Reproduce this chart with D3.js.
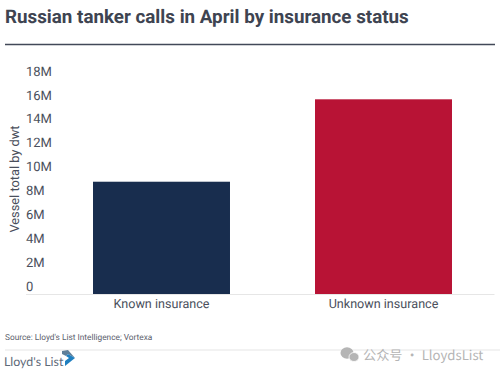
<!DOCTYPE html>
<html>
<head>
<meta charset="utf-8">
<script src="https://cdn.jsdelivr.net/npm/d3@7"></script>
<style>
  html, body { margin: 0; padding: 0; background: #fff; overflow: hidden; }
  text { font-family: Roboto, sans-serif; text-rendering: geometricPrecision; }
</style>
</head>
<body>
<div id="chart"></div>
<script>
(function () {
  const categories = ["Known insurance", "Unknown insurance"];
  const values = [9.4, 16.3];
  const barColors = ["#182d4e", "#b81335"];
  const yTicks = [0, 2, 4, 6, 8, 10, 12, 14, 16, 18];

  const width = 500;
  const height = 375;
  const margin = { top: 79, right: 5.5, bottom: 81, left: 50.5 };
  const innerWidth = width - margin.left - margin.right;
  const innerHeight = height - margin.top - margin.bottom;

  const svg = d3.select("#chart").append("svg")
    .attr("width", width)
    .attr("height", height)
    .style("display", "block");

  // Header
  svg.append("text")
    .attr("x", 5)
    .attr("y", 22.5)
    .attr("fill", "#3e4451")
    .style("font-size", "18.8px")
    .style("font-weight", 700)
    .text("Russian tanker calls in April by insurance status");

  svg.append("line")
    .attr("x1", 5).attr("x2", 495)
    .attr("y1", 44.5).attr("y2", 44.5)
    .attr("stroke", "#424958")
    .attr("stroke-width", 1.5);

  const plot = svg.append("g")
    .attr("transform", `translate(${margin.left},${margin.top})`);

  const x = d3.scaleBand()
    .domain(categories)
    .range([0, innerWidth])
    .paddingInner(0.383)
    .paddingOuter(0.1915);

  const y = d3.scaleLinear()
    .domain([0, 18])
    .range([innerHeight, 0]);

  // Baseline
  plot.append("line")
    .attr("x1", 26 - margin.left)
    .attr("x2", innerWidth)
    .attr("y1", y(0) + 0.5)
    .attr("y2", y(0) + 0.5)
    .attr("stroke", "#e6e6e6");

  // Y axis: labels sit above their tick
  plot.append("g")
    .call(d3.axisLeft(y).tickValues(yTicks).tickSize(0)
      .tickFormat(d => d === 0 ? "0" : `${d}M`))
    .call(g => g.select(".domain").remove())
    .selectAll("text")
    .attr("x", 26 - margin.left)
    .attr("y", -8)
    .attr("text-anchor", "start")
    .attr("fill", "#4a4f5c")
    .style("font-size", "13px");

  plot.selectAll(".bar")
    .data(values)
    .join("rect")
    .attr("class", "bar")
    .attr("x", (_, i) => x(categories[i]))
    .attr("y", d => y(d))
    .attr("width", x.bandwidth())
    .attr("height", d => y(0) - y(d))
    .attr("fill", (_, i) => barColors[i]);

  // X axis
  plot.append("g")
    .attr("transform", `translate(0,${innerHeight})`)
    .call(d3.axisBottom(x).tickSize(0))
    .call(g => g.select(".domain").remove())
    .selectAll("text")
    .attr("y", 5)
    .attr("fill", "#4a4f5c")
    .style("font-size", "12.6px");

  // Y title
  svg.append("text")
    .attr("transform", "translate(19,179) rotate(-90)")
    .attr("text-anchor", "middle")
    .attr("fill", "#4a4f5c")
    .style("font-size", "12.8px")
    .text("Vessel total by dwt");

  // Footer
  svg.append("text")
    .attr("x", 5)
    .attr("y", 340)
    .attr("fill", "#5b606c")
    .style("font-size", "8.3px")
    .text("Source: Lloyd's List Intelligence; Vortexa");

  svg.append("line")
    .attr("x1", 5).attr("x2", 500)
    .attr("y1", 350).attr("y2", 350)
    .attr("stroke", "#eeeeee")
    .attr("stroke-width", 1.5);

  svg.append("text")
    .attr("x", 4)
    .attr("y", 366)
    .attr("fill", "#5f6b7a")
    .style("font-family", "Lato, sans-serif")
    .style("font-size", "12.4px")
    .text("Lloyd's List");

  // Logo mark
  svg.append("path")
    .attr("d", "M62 351 L68 350 L75 358 L68 354 L66 356 L62 354 Z")
    .attr("fill", "#5f7f99");
  svg.append("path")
    .attr("d", "M75 358 L65 366 L65 361 L69 358 L66 356 L68 354 Z")
    .attr("fill", "#1f7fc0");

  // Watermark
  const wm = svg.append("g").attr("fill", "#b5b5b5");
  wm.append("ellipse").attr("cx", 347).attr("cy", 353).attr("rx", 6.5).attr("ry", 5.8);
  wm.append("ellipse").attr("cx", 354).attr("cy", 357).attr("rx", 5).attr("ry", 4.5).attr("stroke", "#fff").attr("stroke-width", 0.8);
  wm.append("text")
    .attr("x", 363)
    .attr("y", 360)
    .style("font-family", "'Noto Sans CJK SC', sans-serif")
    .style("font-size", "13.2px")
    .text("公众号 · LloydsList");
})();
</script>
</body>
</html>
